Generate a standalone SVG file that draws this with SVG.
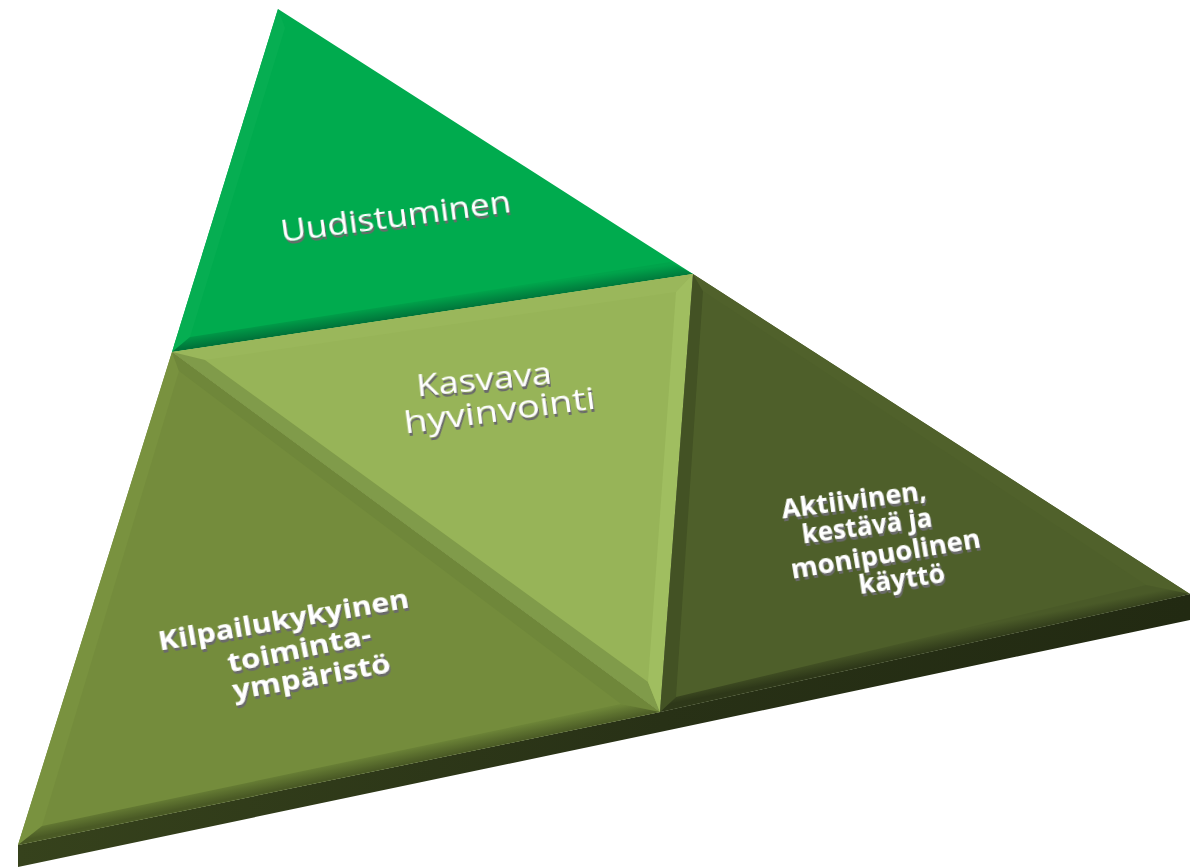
<svg xmlns="http://www.w3.org/2000/svg" width="1191" height="867" viewBox="0 0 1191 867">
  <defs>
    <style>
      .lbl { font-family: "Open Sans", "Liberation Sans", sans-serif; fill: #ffffff; text-anchor: middle; filter: url(#emb); }
      .reg { font-size: 31px; font-weight: 400; }
      .bld { font-size: 27px; font-weight: 700; }
    </style>
    <filter id="emb" x="-10%" y="-30%" width="120%" height="170%">
      <feDropShadow dx="1" dy="3" stdDeviation="0.6" flood-color="#6b6b6b" flood-opacity="1"/>
    </filter>
    <linearGradient id="gTopBev" gradientUnits="userSpaceOnUse" x1="430" y1="299" x2="432" y2="313">
      <stop offset="0" stop-color="#00a44b"/>
      <stop offset="1" stop-color="#00743a"/>
    </linearGradient>
    <linearGradient id="gLBot" gradientUnits="userSpaceOnUse" x1="336" y1="762" x2="339" y2="777">
      <stop offset="0" stop-color="#6d8538"/>
      <stop offset="1" stop-color="#4a5a25"/>
    </linearGradient>
    <linearGradient id="gRBot" gradientUnits="userSpaceOnUse" x1="922" y1="638" x2="925" y2="653">
      <stop offset="0" stop-color="#4a5a28"/>
      <stop offset="1" stop-color="#2e3819"/>
    </linearGradient>
    <linearGradient id="gSide" gradientUnits="userSpaceOnUse" x1="18" y1="0" x2="1190" y2="0">
      <stop offset="0" stop-color="#36421c"/>
      <stop offset="0.55" stop-color="#283116"/>
      <stop offset="1" stop-color="#222a12"/>
    </linearGradient>
  </defs>

  <g id="base-side">
    <polygon points="18,845 660,712 1190,594 1190,620 660,732 18,867" fill="url(#gSide)"/>
  </g>

  <g id="node-uudistuminen">
    <polygon points="278,9 693,274 172,352" fill="#00ab4e"/>
    <polygon points="278,9 285,28 190,337 172,352" fill="#06ae52"/>
    <polygon points="172,352 693,274 670,262 190,337" fill="url(#gTopBev)"/>
    <text class="lbl reg" transform="translate(397,227) rotate(-7.5)" textLength="232" lengthAdjust="spacingAndGlyphs">Uudistuminen</text>
  </g>

  <g id="node-kasvava-hyvinvointi">
    <polygon points="172,352 693,274 660,712" fill="#97b458"/>
    <polygon points="172,352 693,274 676,292 205,360" fill="#9ab75b"/>
    <polygon points="172,352 205,360 648,682 660,712" fill="#809b4a"/>
    <polygon points="693,274 660,712 648,682 676,292" fill="#a0be60"/>
    <text class="lbl reg" transform="translate(485,390) rotate(-5.5)" textLength="136" lengthAdjust="spacingAndGlyphs">Kasvava</text>
    <text class="lbl reg" transform="translate(501,421) rotate(-7.5)" textLength="193" lengthAdjust="spacingAndGlyphs">hyvinvointi</text>
  </g>

  <g id="node-kilpailukykyinen">
    <polygon points="172,352 660,712 18,845" fill="#748c3c"/>
    <polygon points="172,352 179,371 42,826 18,845" fill="#79923f"/>
    <polygon points="172,352 660,712 621,704 179,371" fill="#6f873a"/>
    <polygon points="18,845 42,826 621,704 660,712" fill="url(#gLBot)"/>
    <text class="lbl bld" transform="translate(285,629) rotate(-9.8)" textLength="254" lengthAdjust="spacingAndGlyphs">Kilpailukykyinen</text>
    <text class="lbl bld" transform="translate(301,658) rotate(-11.5)" textLength="146" lengthAdjust="spacingAndGlyphs">toiminta-</text>
    <text class="lbl bld" transform="translate(313,686) rotate(-10)" textLength="160" lengthAdjust="spacingAndGlyphs">ympäristö</text>
  </g>

  <g id="node-aktiivinen">
    <polygon points="693,274 1190,594 660,712" fill="#4e5f2a"/>
    <polygon points="693,274 703,291 676,697 660,712" fill="#435224"/>
    <polygon points="693,274 1190,594 1146,585 703,291" fill="#50612b"/>
    <polygon points="660,712 676,697 1146,585 1190,594" fill="url(#gRBot)"/>
    <text class="lbl bld" transform="translate(855,509) rotate(-7.5)" textLength="146" lengthAdjust="spacingAndGlyphs">Aktiivinen,</text>
    <text class="lbl bld" transform="translate(868,535) rotate(-7.5)" textLength="131" lengthAdjust="spacingAndGlyphs">kestävä ja</text>
    <text class="lbl bld" transform="translate(887,563) rotate(-9.5)" textLength="192" lengthAdjust="spacingAndGlyphs">monipuolinen</text>
    <text class="lbl bld" transform="translate(903,588) rotate(-8)" textLength="87" lengthAdjust="spacingAndGlyphs">käyttö</text>
  </g>

  <g id="connectors"></g>
</svg>
